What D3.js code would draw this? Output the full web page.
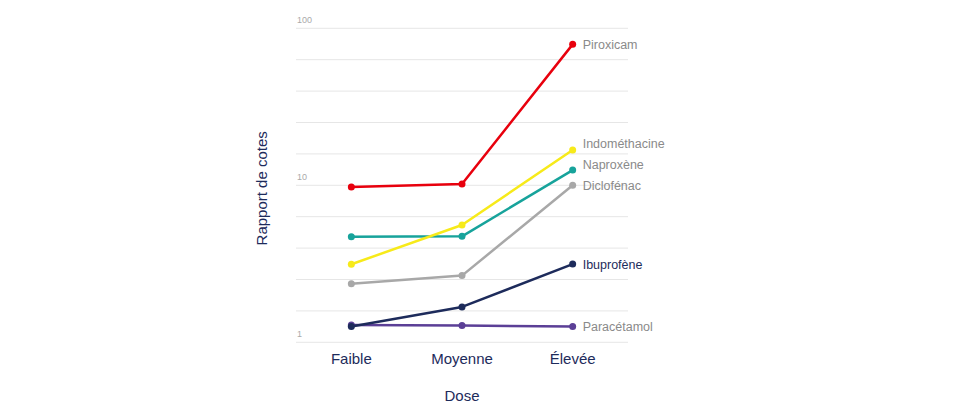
<!DOCTYPE html>
<html><head><meta charset="utf-8">
<script src="https://cdn.jsdelivr.net/npm/d3@7"></script>
<style>body{margin:0;background:#fff;font-family:"Liberation Sans",Arial,sans-serif}</style>
</head><body><svg id="c" width="970" height="416"></svg>
<script>
const categories = ["Faible", "Moyenne", "Élevée"];
const seriesNames = ["Piroxicam", "Indométhacine", "Naproxène", "Diclofénac", "Ibuprofène", "Paracétamol"];
const piroxicam = [9.76, 10.2, 79];
const indomethacine = [3.14, 5.59, 16.8];
const naproxene = [4.71, 4.73, 12.5];
const diclofenac = [2.36, 2.66, 10.0];
const ibuprofene = [1.26, 1.68, 3.15];
const paracetamol = [1.29, 1.28, 1.26];
const yTickLabels = [1, 10, 100];
const colors = ["#e8000d", "#f7ea1a", "#17a39b", "#a8a8a8", "#1d2b5b", "#5b3f96"];
const labelColors = ["#8a8a8a", "#8a8a8a", "#8a8a8a", "#8a8a8a", "#1d2b5b", "#8a8a8a"];

const seriesValues = [piroxicam, indomethacine, naproxene, diclofenac, ibuprofene, paracetamol];
const svg = d3.select("#c").style("font-family", "'Liberation Sans', Arial, sans-serif");
const L = 296, R = 628, T = 28.3, B = 342.3;
const x = d3.scalePoint().domain(categories).range([L, R]).padding(0.5);
const y = d3.scaleLog().domain([1, 100]).range([B, T]);

// gridlines every fifth of a decade
const grid = d3.range(0, 11).map(k => Math.pow(10, k / 5));
svg.append("g").selectAll("line").data(grid).join("line")
  .attr("x1", L).attr("x2", R)
  .attr("y1", d => y(d)).attr("y2", d => y(d))
  .attr("stroke", "#e6e6e6").attr("stroke-width", 1);

// y tick labels
svg.append("g").selectAll("text").data(yTickLabels).join("text")
  .attr("x", L + 1).attr("y", d => y(d) - 5)
  .attr("font-size", 9).attr("fill", "#aaaaaa")
  .text(d => d);

// x axis labels
svg.append("g").selectAll("text").data(categories).join("text")
  .attr("x", d => x(d)).attr("y", 364)
  .attr("text-anchor", "middle").attr("font-size", 15).attr("fill", "#1d2b5b")
  .text(d => d);

svg.append("text").attr("x", (L + R) / 2).attr("y", 401)
  .attr("text-anchor", "middle").attr("font-size", 15).attr("fill", "#1d2b5b").text("Dose");

svg.append("text").attr("transform", `translate(267,${(T + B) / 2 + 3}) rotate(-90)`)
  .attr("text-anchor", "middle").attr("font-size", 15).attr("fill", "#1d2b5b").text("Rapport de cotes");

const line = d3.line().x((d, i) => x(categories[i])).y(d => y(d));
const series = seriesNames.map((n, i) => ({ name: n, values: seriesValues[i], color: colors[i], lc: labelColors[i] }));

// draw in reverse order so top series on top
[...series].reverse().forEach(s => {
  const g = svg.append("g");
  g.append("path").attr("d", line(s.values)).attr("fill", "none")
    .attr("stroke", s.color).attr("stroke-width", 2.5).attr("stroke-linejoin", "round");
  g.selectAll("circle").data(s.values).join("circle")
    .attr("cx", (d, i) => x(categories[i])).attr("cy", d => y(d)).attr("r", 3.5)
    .attr("fill", s.color);
});

// labels with collision avoidance (bottom-up)
const lab = series.map(s => ({ s, y: y(s.values[2]) })).sort((a, b) => b.y - a.y);
const gap = 21;
for (let i = 1; i < lab.length; i++) {
  if (lab[i - 1].y - lab[i].y < gap) lab[i].y = lab[i - 1].y - gap;
}
svg.append("g").selectAll("text").data(lab).join("text")
  .attr("x", x(categories[2]) + 10).attr("y", d => d.y + 4.5)
  .attr("font-size", 12.5).attr("fill", d => d.s.lc)
  .text(d => d.s.name);
</script></body></html>
